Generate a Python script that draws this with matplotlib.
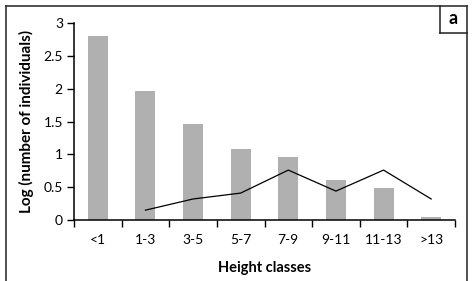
import numpy as np
import matplotlib.pyplot as plt
from matplotlib.lines import Line2D

# Datos
clases = ['<1', '1-3', '3-5', '5-7', '7-9', '9-11', '11-13', '>13']
barras = [2.80, 1.96, 1.46, 1.08, 0.96, 0.61, 0.49, 0.05]
linea = [np.nan, 0.15, 0.32, 0.41, 0.76, 0.44, 0.76, 0.32]

plt.rcParams['font.family'] = ['Lato', 'DejaVu Sans']

W, H = 475, 281
fig = plt.figure(figsize=(W / 100, H / 100), dpi=100)
ax = fig.add_axes([74 / W, 1 - 220 / H, (455 - 74) / W, (220 - 23) / H])

x = np.arange(len(clases))
ax.bar(x, barras, width=0.42, color='#b0b0b0')
ax.plot(x, linea, color='black', lw=0.9)

ax.set_xlim(-0.5, len(clases) - 0.5)
ax.set_ylim(0, 3)
ax.set_yticks([0, 0.5, 1, 1.5, 2, 2.5, 3])
ax.set_yticklabels(['0', '0.5', '1', '1.5', '2', '2.5', '3'])
ax.set_xticks(x)
ax.set_xticklabels(clases)
ax.set_xticks(np.arange(-0.5, len(clases)), minor=True)
ax.tick_params(axis='x', which='major', length=0, pad=10, labelsize=10)
ax.tick_params(axis='x', which='minor', length=5, width=1)
ax.tick_params(axis='y', length=5, width=1, labelsize=10, pad=3)
for s in ['top', 'right']:
    ax.spines[s].set_visible(False)
for s in ['left', 'bottom']:
    ax.spines[s].set_linewidth(1.1)

ax.set_xlabel('Height classes', fontsize=10.5, fontweight='bold', labelpad=11)
ax.set_ylabel('Log (number of individuals)', fontsize=11, fontweight='bold', labelpad=7)

# Marco exterior y recuadro de la letra
def px(xp, yp):
    return xp / W, 1 - yp / H

for (x0, y0), (x1, y1) in [((6, 281), (6, 5.5)), ((6, 5.5), (466.5, 5.5)),
                           ((466.5, 5.5), (466.5, 281)),
                           ((439.5, 5.5), (439.5, 32.5)), ((439.5, 32.5), (466.5, 32.5))]:
    a, b = px(x0, y0)
    c, d = px(x1, y1)
    fig.add_artist(Line2D([a, c], [b, d], color='#222222', lw=1.1))

fx, fy = px(453, 19)
fig.text(fx, fy, 'a', fontsize=13, fontweight='bold', ha='center', va='center')

fig.savefig('out.png', dpi=100)
